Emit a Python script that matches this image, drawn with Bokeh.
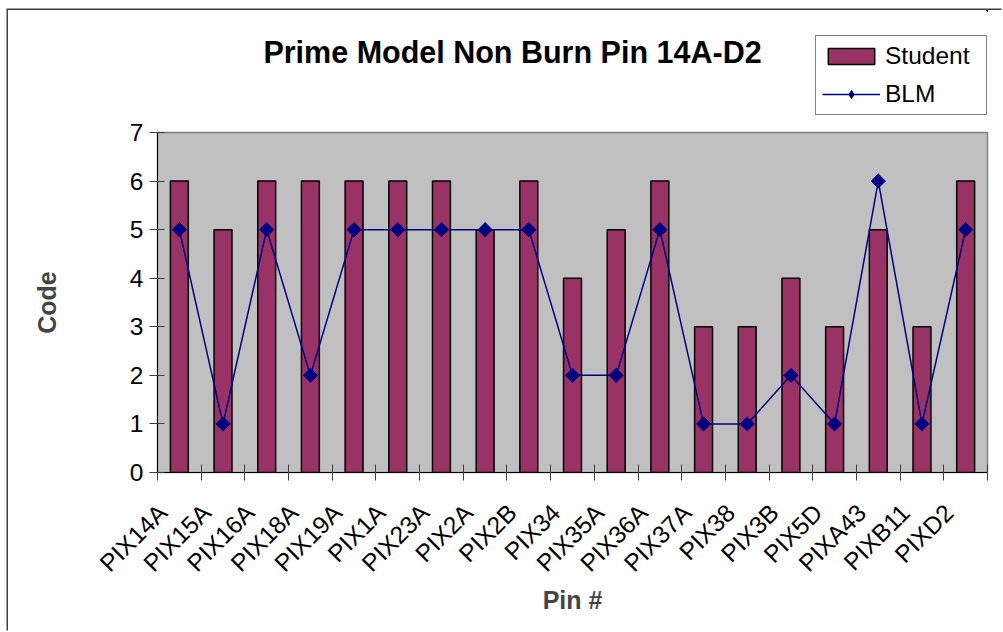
import math
from bokeh.plotting import figure
from bokeh.layouts import column
from bokeh.models import (ColumnDataSource, Range1d, FixedTicker, Legend, LegendItem, Label)
from bokeh.embed import file_html
from bokeh.resources import INLINE

# ---- data ----
pins = ["PIX14A", "PIX15A", "PIX16A", "PIX18A", "PIX19A", "PIX1A", "PIX23A",
        "PIX2A", "PIX2B", "PIX34", "PIX35A", "PIX36A", "PIX37A", "PIX38",
        "PIX3B", "PIX5D", "PIXA43", "PIXB11", "PIXD2"]
student = [6, 5, 6, 6, 6, 6, 6, 5, 6, 4, 5, 6, 3, 3, 4, 3, 5, 3, 6]
blm = [5, 1, 5, 2, 5, 5, 5, 5, 5, 2, 2, 5, 1, 1, 2, 1, 6, 1, 5]
y_ticks = [0, 1, 2, 3, 4, 5, 6, 7]
title_text = "Prime Model Non Burn Pin 14A-D2"

FONT = "Liberation Sans"
BAR_FILL = "#993366"
LINE_COL = "#000080"

n = len(pins)
# category i occupies the slot [i, i+1]; marks sit at the slot centre
xpos = [i + 0.5 for i in range(n)]
source = ColumnDataSource(data=dict(x=xpos, pin=pins, student=student, blm=blm))

W = 995
LEFT, RIGHT = 149, 16
TOP_H = 108
MAIN_H = 514

# ---------------- header: title + legend ----------------
# its ranges lie outside the data, so the series drawn here only feed the legend key
ph = figure(width=W, height=TOP_H, output_backend="svg", toolbar_location=None,
            x_range=Range1d(-2, -1), y_range=Range1d(-2, -1),
            x_axis_location=None, y_axis_location=None,
            min_border_left=LEFT, min_border_right=RIGHT,
            min_border_top=0, min_border_bottom=0)
ph.outline_line_color = None
ph.background_fill_color = "white"
ph.border_fill_color = "white"
ph.xgrid.visible = False
ph.ygrid.visible = False

# screen units, relative to the header frame (which lines up with the plot frame)
ph.add_layout(Label(x=355, y=67, x_units="screen", y_units="screen",
                    text=title_text, text_align="center", text_baseline="middle",
                    text_font=FONT, text_font_size="30.5px", text_font_style="bold",
                    text_color="black"))

lg_bar = ph.vbar(x="x", top="student", width=0.41, source=source,
                 fill_color=BAR_FILL, line_color="black", line_width=1.5)
lg_line = ph.line(x="x", y="blm", source=source, line_color=LINE_COL, line_width=1.5)
lg_pts = ph.scatter(x="x", y="blm", source=source, marker="diamond", size=15,
                    fill_color=LINE_COL, line_color=LINE_COL)
legend = Legend(items=[LegendItem(label="Student", renderers=[lg_bar]),
                       LegendItem(label="BLM", renderers=[lg_line, lg_pts])],
                location=(658, 3), orientation="vertical",
                label_text_font=FONT, label_text_font_size="24.5px",
                label_text_color="black",
                border_line_color="black", border_line_width=1,
                background_fill_color="white", background_fill_alpha=1,
                padding=6, spacing=10, margin=0,
                glyph_width=58, glyph_height=20, label_standoff=5,
                label_width=95, label_height=20)
ph.add_layout(legend, "center")

# ---------------- main chart ----------------
p = figure(width=W, height=MAIN_H, output_backend="svg", toolbar_location=None,
           x_range=Range1d(0, n), y_range=Range1d(0, y_ticks[-1]),
           min_border_left=LEFT, min_border_right=RIGHT,
           min_border_top=14, min_border_bottom=160)
p.background_fill_color = "#C0C0C0"
p.border_fill_color = "white"
p.outline_line_color = "#808080"
p.outline_line_width = 1.5
p.xgrid.visible = False
p.ygrid.visible = False

p.vbar(x="x", top="student", width=0.41, source=source,
       fill_color=BAR_FILL, line_color="black", line_width=1.5)
p.line(x="x", y="blm", source=source, line_color=LINE_COL, line_width=1.5)
p.scatter(x="x", y="blm", source=source, marker="square", angle=math.pi / 4,
          size=10, fill_color=LINE_COL, line_color=LINE_COL)

# y axis
ya = p.yaxis[0]
ya.ticker = FixedTicker(ticks=y_ticks)
ya.axis_label = "Code"
ya.axis_label_text_font = FONT
ya.axis_label_text_font_size = "25px"
ya.axis_label_text_font_style = "bold"
ya.axis_label_standoff = 66
ya.major_label_text_font = FONT
ya.major_label_text_font_size = "24.5px"
ya.major_label_text_color = "black"
ya.major_label_standoff = 6
ya.axis_line_color = "black"
ya.major_tick_line_color = "#404040"
ya.major_tick_in = 7
ya.major_tick_out = 8
ya.minor_tick_line_color = None

# x axis: tick marks on slot boundaries (minor), labels just after each slot start
label_shift = 0.12
label_ticks = [i + label_shift for i in range(n)]
xa = p.xaxis[0]
xa.ticker = FixedTicker(ticks=label_ticks, minor_ticks=list(range(n + 1)))
xa.major_label_overrides = {t: name for t, name in zip(label_ticks, pins)}
xa.major_label_orientation = math.pi / 4
xa.major_label_text_font = FONT
xa.major_label_text_font_size = "24.5px"
xa.major_label_text_color = "black"
xa.major_label_standoff = 28
xa.axis_line_color = "black"
xa.major_tick_line_color = None
xa.major_tick_in = 0
xa.major_tick_out = 8
xa.minor_tick_line_color = "#404040"
xa.minor_tick_in = 8
xa.minor_tick_out = 8
xa.axis_label = "Pin #"
xa.axis_label_text_font = FONT
xa.axis_label_text_font_size = "25px"
xa.axis_label_text_font_style = "bold"
xa.axis_label_standoff = -3

layout = column(ph, p, spacing=0)
layout.styles = {"margin-left": "8px", "margin-top": "10px",
                 "box-shadow": "-1.5px -1.5px 0 0 #404040"}

open("out.html", "w").write(file_html(layout, INLINE))
